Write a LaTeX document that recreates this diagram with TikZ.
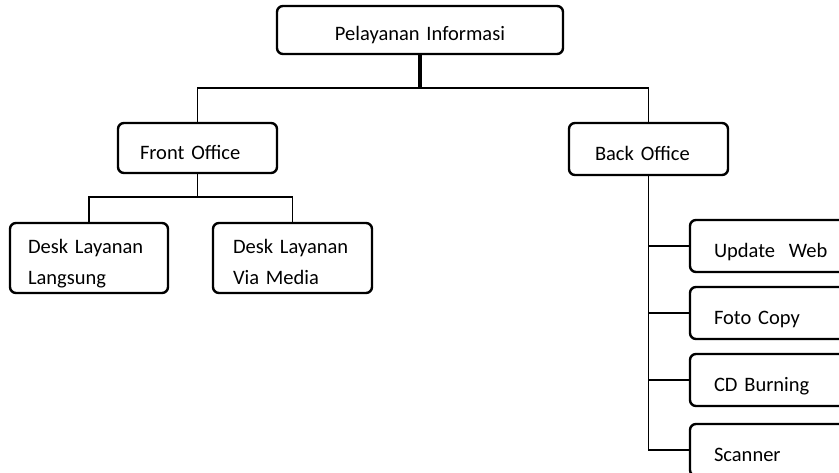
\documentclass[tikz,border=0pt]{standalone}
\usepackage{fontspec}
\setmainfont{Carlito}
\begin{document}
\begin{tikzpicture}[x=1pt, y=-1pt,
        box/.style = {draw, line width=2.4pt, rounded corners=6pt, outer sep=0pt, anchor=north west,
                      inner xsep=22pt, inner ysep=0pt, align=left, minimum height=51pt,
                      text height=22pt, text depth=0pt, font=\fontsize{20.5}{31}\selectfont},
        tall/.style = {minimum height=70pt, text height=14pt, text depth=23pt},
        link/.style = {line width=1.8pt},
        stem/.style = {line width=3.4pt}]
        \useasboundingbox (0,0) rectangle (839,472);
        \clip (0,0) rectangle (839,472);
        % units
        \node[box, align=center, text width=242pt, minimum height=48pt, text height=20pt] (info) at (277,6) {Pelayanan Informasi};
        \node[box, text width=115pt, minimum height=50pt] (front) at (118,123) {Front Office};
        \node[box, inner xsep=26pt, text width=107pt, minimum height=52pt] (back) at (569,123) {Back Office};
        \node[box, tall, inner xsep=18pt, text width=122pt] (langsung) at (10,223) {Desk Layanan\\Langsung};
        \node[box, tall, inner xsep=20pt, text width=119pt] (media) at (213,223) {Desk Layanan\\Via Media};
        \begin{scope}[every node/.style = {box, inner xsep=24pt, text width=132pt, minimum height=52pt}]
            \node (web) at (690,220) {Update\ \ Web};
            \node (foto) at (690,287) {Foto Copy};
            \node (cd) at (690,354) {CD Burning};
            \node (scan) at (690,424) {Scanner};
        \end{scope}
        % connectors
        \path (info.south) ++(0,34) coordinate (hub);
        \draw[stem] (info.south) -- (hub);
        \draw[link] (front.north) |- (hub) -| (back.north);
        \path (front.south) ++(0,24) coordinate (fhub);
        \draw[link] (front.south) -- (fhub);
        \draw[link] (langsung.north) |- (fhub) -| (media.north);
        \draw[link] (back.south) |- (scan.west);
        \foreach \n in {web, foto, cd}
            \draw[link] (\n.west) -- (\n.west -| back.south);
    \end{tikzpicture}
\end{document}
